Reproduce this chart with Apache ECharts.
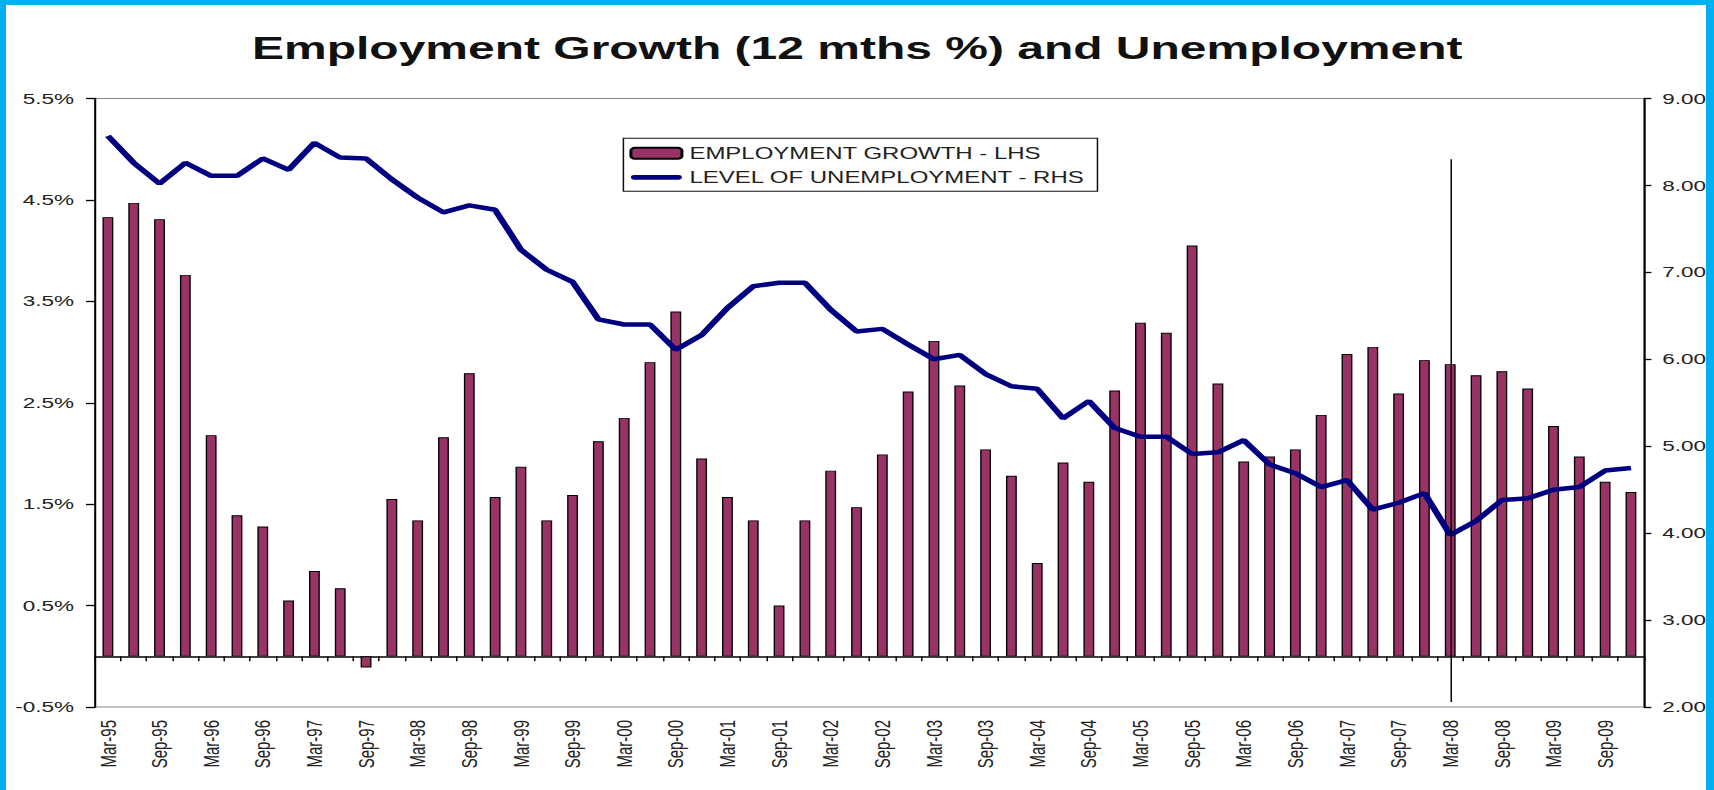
<!DOCTYPE html>
<html>
<head>
<meta charset="utf-8">
<script src="https://cdn.jsdelivr.net/npm/echarts@6/dist/echarts.min.js"></script>
<style>
html,body{margin:0;padding:0;background:#fff;overflow:hidden;}
#wrap{position:absolute;left:0;top:0;width:1714px;height:790px;overflow:hidden;background:#fff;}
#chart{position:absolute;left:0;top:0;width:1142.667px;height:790px;transform:scaleX(1.5);transform-origin:0 0;}
.edge{position:absolute;background:#00B0F0;}
</style>
</head>
<body>
<div id="wrap">
  <div id="chart"></div>
  <div class="edge" style="left:0;top:0;width:6px;height:790px"></div>
  <div class="edge" style="left:0;top:0;width:1714px;height:5px"></div>
  <div class="edge" style="right:0;top:0;width:8px;height:790px"></div>
</div>
<script>
// ---- data ----
const categories = [
  'Mar-95','Jun-95','Sep-95','Dec-95','Mar-96','Jun-96','Sep-96','Dec-96',
  'Mar-97','Jun-97','Sep-97','Dec-97','Mar-98','Jun-98','Sep-98','Dec-98',
  'Mar-99','Jun-99','Sep-99','Dec-99','Mar-00','Jun-00','Sep-00','Dec-00',
  'Mar-01','Jun-01','Sep-01','Dec-01','Mar-02','Jun-02','Sep-02','Dec-02',
  'Mar-03','Jun-03','Sep-03','Dec-03','Mar-04','Jun-04','Sep-04','Dec-04',
  'Mar-05','Jun-05','Sep-05','Dec-05','Mar-06','Jun-06','Sep-06','Dec-06',
  'Mar-07','Jun-07','Sep-07','Dec-07','Mar-08','Jun-08','Sep-08','Dec-08',
  'Mar-09','Jun-09','Sep-09','Dec-09'
];
const employmentGrowth = [
  4.33, 4.47, 4.31, 3.76, 2.18, 1.39, 1.28, 0.55,
  0.84, 0.67, -0.11, 1.55, 1.34, 2.16, 2.79, 1.57,
  1.87, 1.34, 1.59, 2.12, 2.35, 2.90, 3.40, 1.95,
  1.57, 1.34, 0.50, 1.34, 1.83, 1.47, 1.99, 2.61,
  3.11, 2.67, 2.04, 1.78, 0.92, 1.91, 1.72, 2.62,
  3.29, 3.19, 4.05, 2.69, 1.92, 1.97, 2.04, 2.38,
  2.98, 3.05, 2.59, 2.92, 2.88, 2.77, 2.81, 2.64,
  2.27, 1.97, 1.72, 1.62
];
const unemployment = [
  8.57, 8.26, 8.02, 8.26, 8.11, 8.11, 8.31, 8.18,
  8.49, 8.32, 8.31, 8.07, 7.86, 7.69, 7.77, 7.72,
  7.26, 7.03, 6.89, 6.46, 6.40, 6.40, 6.11, 6.28,
  6.59, 6.84, 6.88, 6.88, 6.57, 6.32, 6.35, 6.17,
  6.00, 6.05, 5.83, 5.69, 5.66, 5.32, 5.52, 5.21,
  5.11, 5.11, 4.91, 4.93, 5.07, 4.79, 4.69, 4.53,
  4.61, 4.27, 4.35, 4.46, 3.98, 4.14, 4.38, 4.40,
  4.50, 4.53, 4.72, 4.75
];
const leftAxisRange = [-0.5, 5.5];   // ticks -0.5% ... 5.5%
const rightAxisRange = [2, 9];       // ticks 2.00 ... 9.00
const markerCategory = 'Mar-08';
const markerSpan = [4.9, -0.45];     // in left-axis units
const titleText = 'Employment Growth (12 mths %) and Unemployment';
const seriesNames = ['EMPLOYMENT GROWTH - LHS', 'LEVEL OF UNEMPLOYMENT - RHS'];

// ---- chart ----
const FONT = 'Liberation Sans, Arial, sans-serif';
const LINE_ICON = 'path://M2.5,0H33.5A2.5,2.5,0,0,1,33.5,5H2.5A2.5,2.5,0,0,1,2.5,0Z';
const chart = echarts.init(document.getElementById('chart'), null, { renderer: 'svg' });
chart.setOption({
  animation: false,
  backgroundColor: '#fff',
  title: {
    text: titleText,
    left: 'center',
    top: 27,
    textStyle: { fontFamily: FONT, fontWeight: 'bold', fontSize: 32, color: '#111' }
  },
  legend: {
    orient: 'vertical',
    left: 415.6,
    top: 138.3,
    padding: [7, 8, 6, 4],
    itemGap: 8,
    itemWidth: 34,
    itemHeight: 11,
    symbolKeepAspect: true,
    backgroundColor: '#fff',
    borderColor: '#111',
    borderWidth: 1,
    textStyle: { fontFamily: FONT, fontSize: 16, color: '#222' },
    data: [
      { name: seriesNames[0] },
      { name: seriesNames[1], icon: LINE_ICON, itemStyle: { color: '#000080', borderWidth: 0 } }
    ]
  },
  grid: {
    left: 63.33, right: 47.1, top: 98.5, bottom: 83,
    show: true, borderColor: '#888', borderWidth: 1, backgroundColor: 'transparent',
    containLabel: false, outerBoundsMode: 'none'
  },
  xAxis: [
    {
      type: 'category', data: categories, position: 'bottom',
      axisLine: { show: true, onZero: true, lineStyle: { color: '#000', width: 1.5 } },
      axisTick: { show: true, interval: 0, length: 5, lineStyle: { color: '#000', width: 1 } },
      axisLabel: { show: false },
      splitLine: { show: false }
    },
    {
      type: 'category', data: categories, position: 'bottom',
      axisLine: { show: false, onZero: false },
      axisTick: { show: false },
      axisLabel: { interval: 1, rotate: 90, margin: 13, fontFamily: FONT, fontSize: 15, color: '#222' },
      splitLine: { show: false }
    }
  ],
  yAxis: [
    {
      type: 'value', position: 'left',
      min: leftAxisRange[0], max: leftAxisRange[1], interval: 1,
      axisLine: { show: true, lineStyle: { color: '#000', width: 1.3 } },
      axisTick: { show: true, length: 6, lineStyle: { color: '#000', width: 1.3 } },
      axisLabel: { margin: 14, fontFamily: FONT, fontSize: 15, color: '#222',
        formatter: v => v.toFixed(1) + '%' },
      splitLine: { show: false }
    },
    {
      type: 'value', position: 'right',
      min: rightAxisRange[0], max: rightAxisRange[1], interval: 1,
      axisLine: { show: true, lineStyle: { color: '#000', width: 1.3 } },
      axisTick: { show: true, length: 5, lineStyle: { color: '#000', width: 1.3 } },
      axisLabel: { margin: 12.3, fontFamily: FONT, fontSize: 15, color: '#222',
        formatter: v => v.toFixed(2) },
      splitLine: { show: false }
    }
  ],
  series: [
    {
      name: seriesNames[0], type: 'bar', xAxisIndex: 0, yAxisIndex: 0,
      data: employmentGrowth, barWidth: '42%',
      itemStyle: { color: '#993366', borderColor: '#000', borderWidth: 0.9 },
      markLine: {
        silent: true, symbol: ['none', 'none'],
        label: { show: false },
        lineStyle: { color: '#000', width: 1, type: 'solid' },
        data: [[ { coord: [markerCategory, markerSpan[0]] }, { coord: [markerCategory, markerSpan[1]] } ]]
      },
      z: 2
    },
    {
      name: seriesNames[1], type: 'line', xAxisIndex: 0, yAxisIndex: 1,
      data: unemployment, symbol: 'none',
      lineStyle: { color: '#000080', width: 4.5 },
      itemStyle: { color: '#000080' },
      z: 3
    }
  ]
});
</script>
</body>
</html>
